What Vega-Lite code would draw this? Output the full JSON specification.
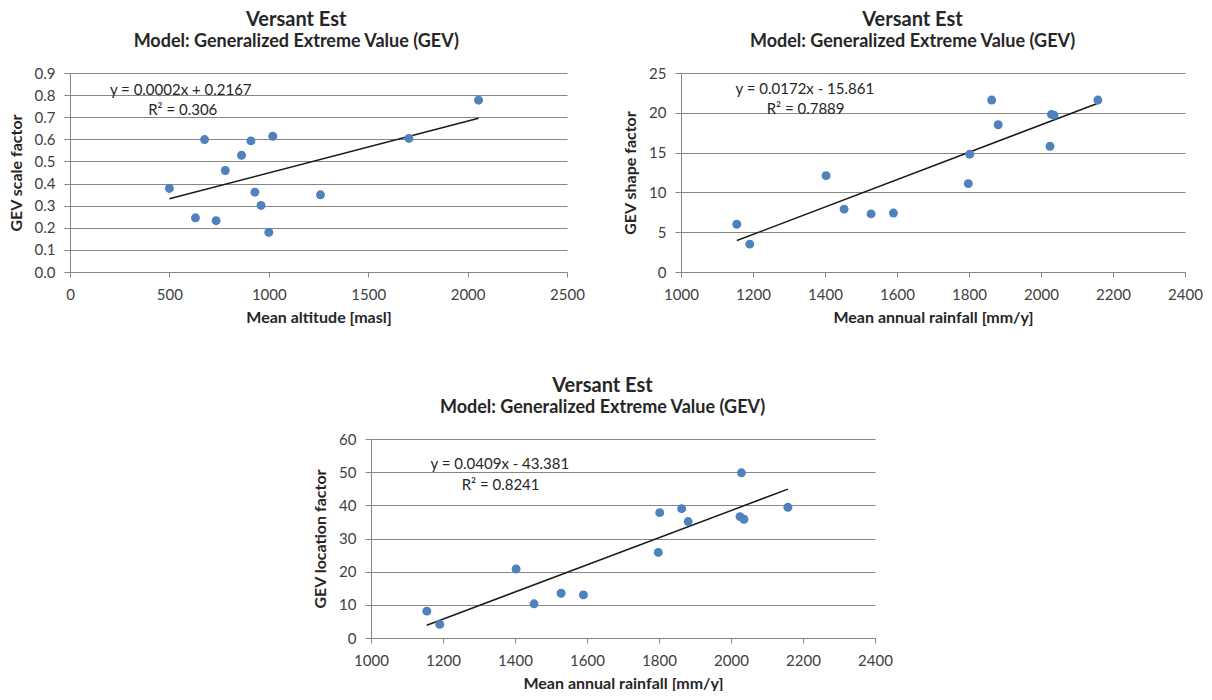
{
  "$schema": "https://vega.github.io/schema/vega-lite/v6.json",
  "padding": {"left": 8, "top": 10, "right": 0, "bottom": 0},
  "background": "#ffffff",
  "config": {
    "font": "Lato",
    "view": {"stroke": null},
    "title": {"font": "Lato", "fontSize": 20, "fontWeight": "bold", "color": "#262626", "subtitleFont": "Lato", "subtitleFontSize": 18, "subtitleFontWeight": "bold", "subtitleColor": "#262626", "subtitlePadding": 3, "anchor": "middle", "frame": "bounds", "offset": 15},
    "axis": {"labelFont": "Lato", "labelFontSize": 15, "labelColor": "#404040", "titleFont": "Lato", "titleFontSize": 16, "titleFontWeight": "bold", "titleColor": "#262626", "domainColor": "#868686", "tickColor": "#868686", "gridColor": "#868686", "gridOpacity": 1, "labelFlush": false, "labelOverlap": false},
    "axisX": {"grid": false, "tickSize": 5, "labelPadding": 10, "titlePadding": 7, "format": "d"},
    "axisY": {"grid": true, "tickSize": 6, "labelPadding": 9, "titlePadding": 10}
  },
  "datasets": {
    "p1": [
      {"x": 500, "y": 0.378},
      {"x": 631, "y": 0.245},
      {"x": 677, "y": 0.599},
      {"x": 735, "y": 0.232},
      {"x": 781, "y": 0.459},
      {"x": 863, "y": 0.528},
      {"x": 910, "y": 0.593},
      {"x": 930, "y": 0.361},
      {"x": 961, "y": 0.301},
      {"x": 1000, "y": 0.179},
      {"x": 1020, "y": 0.614},
      {"x": 1260, "y": 0.349},
      {"x": 1705, "y": 0.604},
      {"x": 2055, "y": 0.777}
    ],
    "p2": [
      {"x": 1155, "y": 6.0},
      {"x": 1191, "y": 3.5},
      {"x": 1403, "y": 12.1},
      {"x": 1453, "y": 7.9},
      {"x": 1528, "y": 7.3},
      {"x": 1590, "y": 7.4},
      {"x": 1798, "y": 11.1},
      {"x": 1802, "y": 14.8},
      {"x": 1863, "y": 21.6},
      {"x": 1881, "y": 18.5},
      {"x": 2025, "y": 15.8},
      {"x": 2029, "y": 19.8},
      {"x": 2036, "y": 19.7},
      {"x": 2158, "y": 21.6}
    ],
    "p3": [
      {"x": 1155, "y": 8.1},
      {"x": 1191, "y": 4.1},
      {"x": 1403, "y": 20.8},
      {"x": 1453, "y": 10.3},
      {"x": 1528, "y": 13.5},
      {"x": 1590, "y": 13.0},
      {"x": 1798, "y": 25.8},
      {"x": 1802, "y": 37.8},
      {"x": 1863, "y": 39.0},
      {"x": 1881, "y": 35.1},
      {"x": 2025, "y": 36.6},
      {"x": 2029, "y": 49.8},
      {"x": 2036, "y": 35.8},
      {"x": 2158, "y": 39.4}
    ],
    "trend1": [{"x": 500, "y": 0.331}, {"x": 2055, "y": 0.695}],
    "trend2": [{"x": 1155, "y": 3.95}, {"x": 2158, "y": 21.2}],
    "trend3": [{"x": 1155, "y": 3.86}, {"x": 2158, "y": 44.88}],
    "eq1": [{"x": 557, "y": 0.823, "label": "y = 0.0002x + 0.2167"}, {"x": 567, "y": 0.733, "label": "R² = 0.306"}],
    "eq2": [{"x": 1344, "y": 23.0, "label": "y = 0.0172x - 15.861"}, {"x": 1346, "y": 20.5, "label": "R² = 0.7889"}],
    "eq3": [{"x": 1358, "y": 52.4, "label": "y = 0.0409x - 43.381"}, {"x": 1360, "y": 46.1, "label": "R² = 0.8241"}]
  },
  "spacing": 51,
  "vconcat": [
    {
      "spacing": 37,
      "hconcat": [
        {
          "width": 497,
          "height": 199,
          "title": {"text": "Versant Est", "subtitle": "Model: Generalized Extreme Value (GEV)"},
          "encoding": {
            "x": {"field": "x", "type": "quantitative", "scale": {"domain": [0, 2500], "nice": false}, "axis": {"values": [0, 500, 1000, 1500, 2000, 2500], "title": "Mean altitude [masl]"}},
            "y": {"field": "y", "type": "quantitative", "scale": {"domain": [0, 0.9], "nice": false}, "axis": {"values": [0, 0.1, 0.2, 0.3, 0.4, 0.5, 0.6, 0.7, 0.8, 0.9], "format": ".1f", "title": "GEV scale factor"}}
          },
          "layer": [
            {"data": {"name": "trend1"}, "mark": {"type": "line", "color": "#1a1a1a", "strokeWidth": 1.5}},
            {"data": {"name": "p1"}, "mark": {"type": "circle", "color": "#4F81BD", "opacity": 1, "size": 80}},
            {"data": {"name": "eq1"}, "mark": {"type": "text", "font": "Lato", "fontSize": 15, "color": "#262626", "align": "center", "baseline": "middle"}, "encoding": {"text": {"field": "label"}}}
          ]
        },
        {
          "width": 504,
          "height": 199,
          "title": {"text": "Versant Est", "subtitle": "Model: Generalized Extreme Value (GEV)"},
          "encoding": {
            "x": {"field": "x", "type": "quantitative", "scale": {"domain": [1000, 2400], "nice": false, "zero": false}, "axis": {"values": [1000, 1200, 1400, 1600, 1800, 2000, 2200, 2400], "title": "Mean annual rainfall [mm/y]"}},
            "y": {"field": "y", "type": "quantitative", "scale": {"domain": [0, 25], "nice": false}, "axis": {"values": [0, 5, 10, 15, 20, 25], "title": "GEV shape factor"}}
          },
          "layer": [
            {"data": {"name": "trend2"}, "mark": {"type": "line", "color": "#1a1a1a", "strokeWidth": 1.5}},
            {"data": {"name": "p2"}, "mark": {"type": "circle", "color": "#4F81BD", "opacity": 1, "size": 80}},
            {"data": {"name": "eq2"}, "mark": {"type": "text", "font": "Lato", "fontSize": 15, "color": "#262626", "align": "center", "baseline": "middle"}, "encoding": {"text": {"field": "label"}}}
          ]
        }
      ]
    },
    {
      "spacing": 52,
      "hconcat": [
        {
          "width": 190,
          "height": 199,
          "data": {"values": [{"v": 0}]},
          "mark": {"type": "point", "opacity": 0},
          "encoding": {}
        },
        {
          "width": 504,
          "height": 199,
          "title": {"text": "Versant Est", "subtitle": "Model: Generalized Extreme Value (GEV)"},
          "encoding": {
            "x": {"field": "x", "type": "quantitative", "scale": {"domain": [1000, 2400], "nice": false, "zero": false}, "axis": {"values": [1000, 1200, 1400, 1600, 1800, 2000, 2200, 2400], "title": "Mean annual rainfall [mm/y]"}},
            "y": {"field": "y", "type": "quantitative", "scale": {"domain": [0, 60], "nice": false}, "axis": {"values": [0, 10, 20, 30, 40, 50, 60], "title": "GEV location factor"}}
          },
          "layer": [
            {"data": {"name": "trend3"}, "mark": {"type": "line", "color": "#1a1a1a", "strokeWidth": 1.5}},
            {"data": {"name": "p3"}, "mark": {"type": "circle", "color": "#4F81BD", "opacity": 1, "size": 80}},
            {"data": {"name": "eq3"}, "mark": {"type": "text", "font": "Lato", "fontSize": 15, "color": "#262626", "align": "center", "baseline": "middle"}, "encoding": {"text": {"field": "label"}}}
          ]
        }
      ]
    }
  ]
}
